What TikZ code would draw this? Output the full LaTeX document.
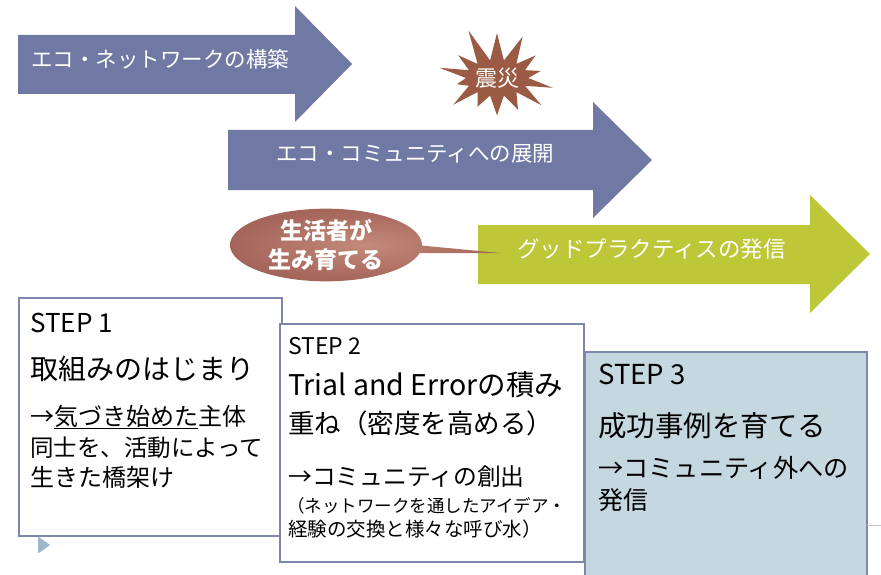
\documentclass[tikz,border=0pt]{standalone}
\usepackage{fontspec}
\setmainfont{Noto Sans CJK JP}
\usetikzlibrary{shapes.symbols,shapes.callouts,shapes.geometric}
\definecolor{arrowblue}{HTML}{6F79A3}
\definecolor{arrowgreen}{HTML}{BDC737}
\definecolor{starc}{HTML}{9A5A44}
\definecolor{ovalin}{HTML}{C48A7A}
\definecolor{ovalout}{HTML}{A4655A}
\definecolor{boxline}{HTML}{7F86AE}
\definecolor{boxthree}{HTML}{C5D7DF}
\definecolor{bulletc}{HTML}{9DB6CE}
\newcommand{\fsz}[1]{\fontsize{#1}{#1}\selectfont}
\newcommand{\arr}{\makebox[1em][c]{→}}
\tikzset{
  txt/.style={inner sep=0pt, anchor=base west},
  wtxt/.style={txt, text=white},
  stepbox/.style={draw=boxline, line width=1.6pt, anchor=north west, inner sep=0pt, outer sep=0pt},
}
\begin{document}
\begin{tikzpicture}[x=1pt,y=-1pt]
\useasboundingbox (0,0) rectangle (881,575);
\clip (0,0) rectangle (881,575);
\fill[white] (0,0) rectangle (881,575);

% arrows
\fill[arrowblue] (18,35) -- (295,35) -- (295,6) -- (352,64) -- (295,122) -- (295,94) -- (18,94) -- cycle;
\fill[arrowblue] (228,130) -- (593,130) -- (593,102) -- (652,160) -- (593,218) -- (593,190) -- (228,190) -- cycle;
\fill[arrowgreen] (478,225) -- (810,225) -- (810,195) -- (870,254) -- (810,313) -- (810,284) -- (478,284) -- cycle;

\node[wtxt, font=\fsz{21.5}] (t1) at (31,68) {エコ・ネットワークの構築};
\node[wtxt, font=\fsz{21.5}] (t2) at (276,161) {エコ・コミュニティへの展開};
\node[wtxt, font=\fsz{22.5}] (t3) at (517,257) {グッドプラクティスの発信};

% quake star
\node[starburst, fill=starc, minimum width=132pt, minimum height=108pt,
      starburst points=14, starburst point height=36pt, random starburst=11,
      inner sep=0pt, text=white, font=\fsz{22}] (quake) at (497,78) {震災};

% callout
\node[ellipse callout, inner color=ovalin, outer color=ovalout,
      minimum width=192pt, minimum height=64pt, inner sep=0pt,
      callout absolute pointer={(500,253)}, callout pointer arc=12,
      align=center, text=white, font=\bfseries\fontsize{23}{29}\selectfont] (oval) at (326,245) {生活者が\\生み育てる};

% boxes
\node[stepbox, fill=white, minimum width=263pt, minimum height=238pt] (box1) at (19,298) {};
\node[stepbox, fill=white, minimum width=304pt, minimum height=238pt] (box2) at (280,324) {};
\node[stepbox, fill=boxthree, minimum width=282pt, minimum height=240pt] (box3) at (585,352) {};
\draw[boxline!45, line width=0.8pt] (box3.east |- 0,525) coordinate (f1) -- (881,525) coordinate (f2);

\node[fill=bulletc, isosceles triangle, isosceles triangle apex angle=70, minimum height=12pt, inner sep=0pt, anchor=west] (bullet) at (38,545) {};

% box 1 text
\node[txt, font=\fsz{26}] (s1) at (30,332) {STEP 1};
\node[txt, font=\fsz{28}] (s1a) at (30,379) {取組みのはじまり};
\node[txt, font=\fsz{24}] (s1b) at (30,425) {\arr\underline{気づき始めた}主体};
\node[txt, font=\fsz{23.5}] (s1c) at (30,456) {同士を、活動によって};
\node[txt, font=\fsz{24}] (s1d) at (30,486) {生きた橋架け};

% box 2 text
\node[txt, font=\fsz{23}] (s2) at (288,354) {STEP 2};
\node[txt, font=\fsz{28.5}] (s2a) at (288,395) {Trial and Errorの積み};
\node[txt, font=\fsz{26.5}] (s2b) at (288,433) {重ね（密度を高める）};
\node[txt, font=\fsz{23.8}] (s2c) at (288,485) {\arr コミュニティの創出};
\node[txt, font=\fsz{17.5}] (s2d) at (287,512) {（ネットワークを通したアイデア・};
\node[txt, font=\fsz{19.5}] (s2e) at (288,536) {経験の交換と様々な呼び水）};

% box 3 text
\node[txt, font=\fsz{27.5}] (s3) at (598,384) {STEP 3};
\node[txt, font=\fsz{28.5}] (s3a) at (598,436) {成功事例を育てる};
\node[txt, font=\fsz{25.2}] (s3b) at (598,477) {\arr コミュニティ外への};
\node[txt, font=\fsz{25}] (s3c) at (598,509) {発信};
\end{tikzpicture}
\end{document}
